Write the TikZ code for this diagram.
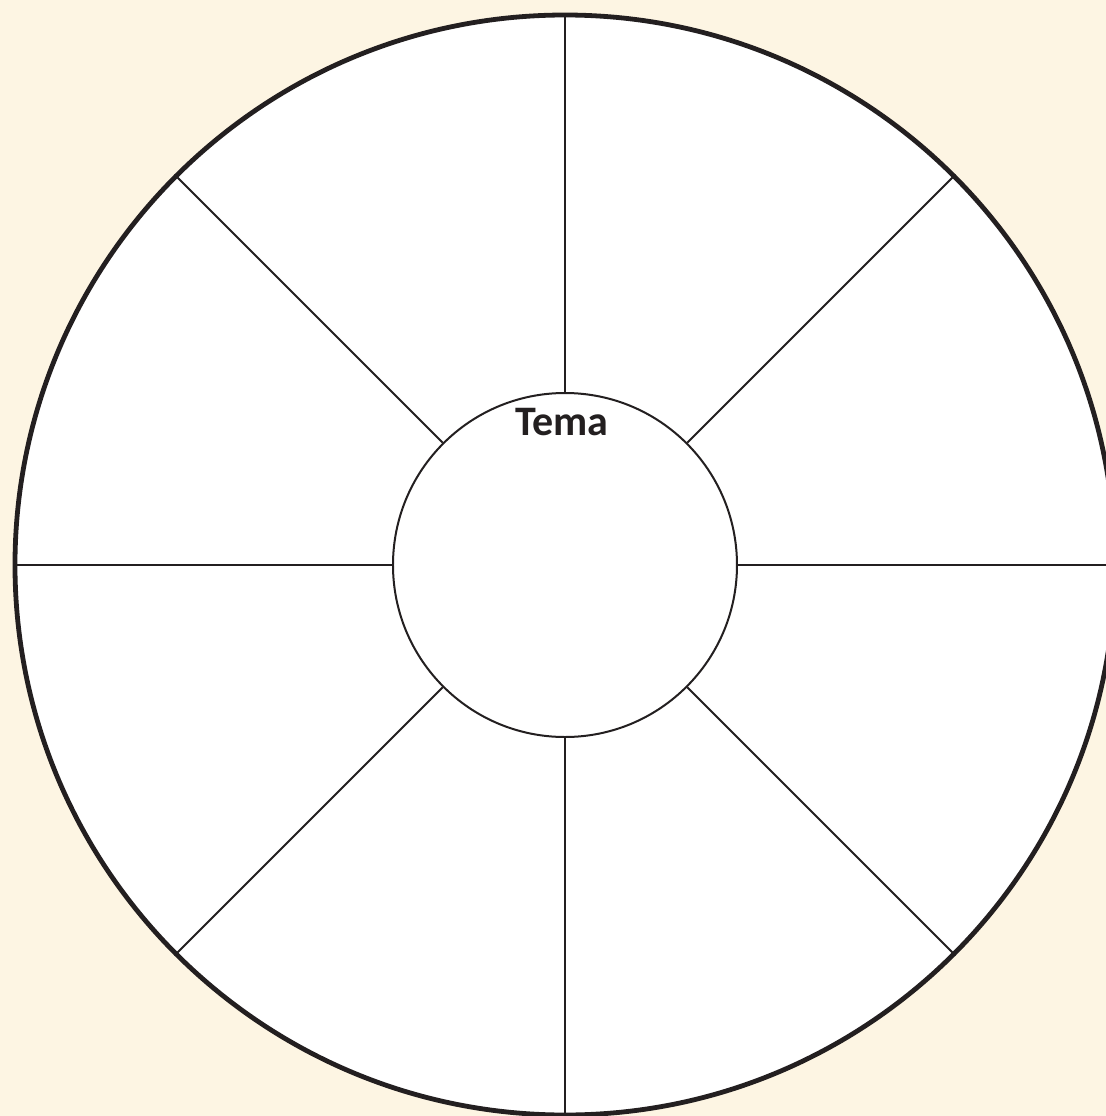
\documentclass[tikz,border=0pt]{standalone}
\usepackage{fontspec}
\setmainfont{Carlito}
\usepackage{xcolor}
\definecolor{paper}{HTML}{FDF5E3}
\definecolor{ink}{HTML}{231F20}
\usepackage{tikz}
\usetikzlibrary{positioning}

\begin{document}
\begin{tikzpicture}[x=0.5pt, y=0.5pt,
      rim/.style={draw=ink, line width=2.4pt, fill=white, circle, minimum size=550pt, inner sep=0pt},
      hub/.style={draw=ink, line width=1pt, fill=white, circle, minimum size=172pt, inner sep=0pt},
      spoke/.style={ink, line width=1pt}
    ]
      \fill[paper] (-565,-551) rectangle (541,565);
      \useasboundingbox (-565,-551) rectangle (541,565);
      \node[rim] (rim) at (0,0) {};
      \node[hub] (hub) at (0,0) {};
      \node[font=\fontsize{21}{25}\selectfont\bfseries, text=ink] (tema) at (-3,143) {Tema};
      \draw[spoke] (hub.0) -- (rim.0);
      \draw[spoke] (hub.45) -- (rim.45);
      \draw[spoke] (hub.90) -- (rim.90);
      \draw[spoke] (hub.135) -- (rim.135);
      \draw[spoke] (hub.180) -- (rim.180);
      \draw[spoke] (hub.225) -- (rim.225);
      \draw[spoke] (hub.270) -- (rim.270);
      \draw[spoke] (hub.315) -- (rim.315);
    \end{tikzpicture}
\end{document}
